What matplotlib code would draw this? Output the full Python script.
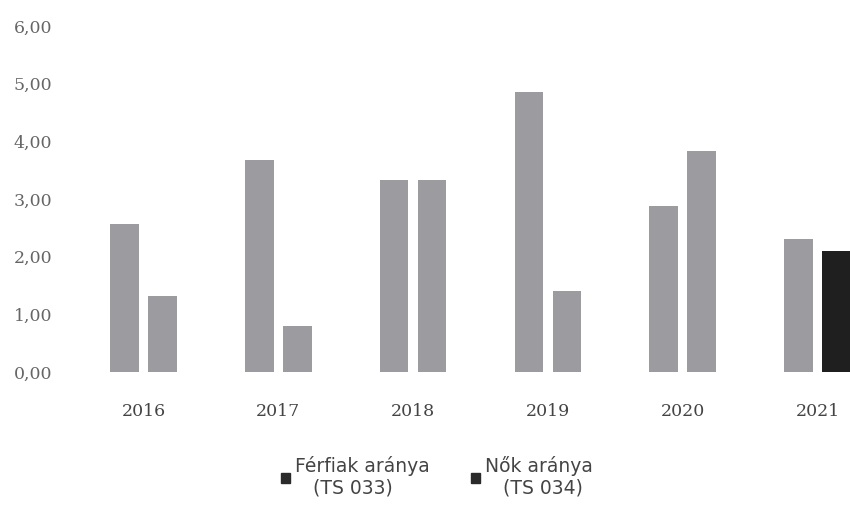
import matplotlib
matplotlib.use("Agg")
import matplotlib.pyplot as plt
from matplotlib.patches import Patch
import numpy as np

years = ["2016", "2017", "2018", "2019", "2020", "2021"]
ferfiak = [2.56, 3.67, 3.33, 4.85, 2.88, 2.30]
nok = [1.32, 0.80, 3.33, 1.40, 3.83, 2.10]
yticks = [0, 1, 2, 3, 4, 5, 6]
ytick_labels = ["0,00", "1,00", "2,00", "3,00", "4,00", "5,00", "6,00"]
legend_labels = ["Férfiak aránya\n   (TS 033)", "Nők aránya\n   (TS 034)"]

W, H = 850, 516
fig = plt.figure(figsize=(W / 100, H / 100), dpi=100)
left_px, right_px, bottom_px, top_px = 95, 850, 372, 26
center0 = 143.5
step = 134.8
ax = fig.add_axes([left_px / W, (H - bottom_px) / H, (right_px - left_px) / W, (bottom_px - top_px) / H])

x = np.arange(len(years))
off = 19 / step
bw = 28.5 / step
grey = "#9c9b9f"
dark = "#1f1f1f"
nok_colors = [grey] * (len(years) - 1) + [dark]
ax.bar(x - off, ferfiak, width=bw, color=grey)
ax.bar(x + off, nok, width=bw, color=nok_colors)

ax.set_xlim((left_px - center0) / step, (right_px - center0) / step)
ax.set_ylim(0, 6)
for s in ax.spines.values():
    s.set_visible(False)
ax.set_yticks(yticks)
ax.set_yticklabels(ytick_labels, family="DejaVu Serif", fontsize=12.5, color="#666666")
ax.set_xticks(x)
ax.set_xticklabels(years, family="DejaVu Serif", fontsize=12.5, color="#444444")
ax.tick_params(axis="both", length=0)
ax.tick_params(axis="y", pad=31)
ax.tick_params(axis="x", pad=22)

handles = [Patch(color="#2a2a2a"), Patch(color="#2a2a2a")]
fig.legend(handles, legend_labels, loc="center", bbox_to_anchor=(437 / W, (H - 477) / H), ncol=2,
           frameon=False, prop={"family": "DejaVu Sans", "size": 13.5}, labelcolor="#444444",
           handlelength=0.5, handleheight=0.5, handletextpad=0.25, columnspacing=2.2,
           labelspacing=0.5)

fig.savefig("out.png", dpi=100)
